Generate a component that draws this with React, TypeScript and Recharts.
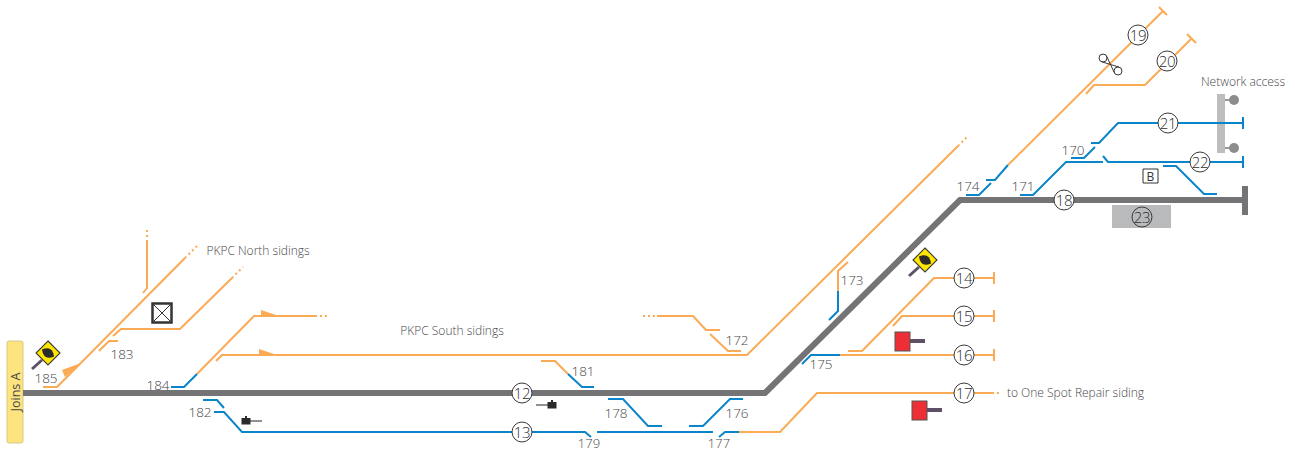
import React from "react"
import {
  ComposedChart,
  Line,
  Scatter,
  XAxis,
  YAxis,
  ReferenceArea
} from "recharts"

type Pt = { x: number; y: number }
const p = (...c: number[]): Pt[] => {
  const out: Pt[] = []
  for (let i = 0; i < c.length; i += 2) out.push({ x: c[i], y: c[i + 1] })
  return out
}

const ORANGE = "#fbaa55"
const BLUE = "#0a85c9"
const GREY = "#747477"
const INK = "#48484a"

// diagram coordinates, x along the page, y downwards
const mainTrack = [
  p(23, 393, 765, 393, 960, 200, 1245, 200),
  p(1245, 186, 1245, 215)
]

const orangeTracks = [
  p(43, 387, 57, 387, 185, 258),
  p(143, 293, 147, 288, 147, 242),
  p(99, 351, 109, 341, 118, 341),
  p(113, 336, 121, 329, 180, 329, 232, 278),
  p(197, 374, 254, 316, 315, 316),
  p(216, 361, 222, 355, 747, 355, 958, 146),
  p(657, 316, 693, 316, 706, 330, 720, 330),
  p(710, 334, 728, 351, 741, 351),
  p(541, 361, 555, 361, 568, 374),
  p(739, 432, 780, 432, 817, 393, 992, 393),
  p(848, 262, 838, 271, 838, 291),
  p(840, 355, 994, 355),
  p(848, 351, 862, 351, 934, 278, 994, 278),
  p(893, 326, 902, 316, 994, 316),
  p(1008, 165, 1163, 11),
  p(1086, 94, 1094, 85, 1145, 85, 1192, 38)
]

const orangeStops = [
  p(994, 272, 994, 284),
  p(994, 310, 994, 322),
  p(994, 349, 994, 361),
  p(1159, 7, 1167, 15),
  p(1187, 34, 1196, 43)
]

const dottedEnds = [
  p(185, 258, 197, 246),
  p(147, 242, 147, 228),
  p(232, 278, 243, 267),
  p(315, 316, 330, 316),
  p(643, 316, 657, 316),
  p(958, 146, 968, 136),
  p(992, 393, 1001, 393)
]

const blueTracks = [
  p(171, 387, 184, 387, 197, 374),
  p(203, 400, 217, 400, 224, 408),
  p(214, 412, 224, 412, 242, 432, 585, 432, 591, 437),
  p(597, 432, 713, 432),
  p(719, 437, 725, 432, 739, 432),
  p(568, 374, 582, 387, 594, 387),
  p(608, 399, 623, 399, 648, 426, 662, 426),
  p(689, 426, 703, 426, 730, 399, 743, 399),
  p(838, 291, 838, 311, 829, 320),
  p(802, 364, 811, 355, 840, 355),
  p(966, 195, 979, 195, 991, 183),
  p(986, 180, 995, 180, 1008, 165),
  p(1091, 143, 1099, 143, 1118, 123, 1243, 123),
  p(1071, 158, 1084, 158, 1095, 147),
  p(1020, 195, 1033, 195, 1066, 162, 1103, 162),
  p(1103, 156, 1108, 162, 1243, 162),
  p(1163, 166, 1176, 166, 1204, 194, 1217, 194),
  p(1243, 117, 1243, 129),
  p(1243, 156, 1243, 168)
]

const roadNumbers = [
  { x: 522, y: 393, text: "12" },
  { x: 522, y: 432, text: "13" },
  { x: 964, y: 278, text: "14" },
  { x: 964, y: 316, text: "15" },
  { x: 964, y: 355, text: "16" },
  { x: 964, y: 393, text: "17" },
  { x: 1064, y: 200, text: "18" },
  { x: 1138, y: 35, text: "19" },
  { x: 1167, y: 61, text: "20" },
  { x: 1168, y: 123, text: "21" },
  { x: 1200, y: 162, text: "22" },
  { x: 1142, y: 217, text: "23" }
]

const pointLabels = [
  { x: 122, y: 354, text: "183" },
  { x: 46, y: 378, text: "185" },
  { x: 158, y: 385, text: "184" },
  { x: 200, y: 412, text: "182" },
  { x: 583, y: 371, text: "181" },
  { x: 737, y: 340, text: "172" },
  { x: 616, y: 413, text: "178" },
  { x: 737, y: 413, text: "176" },
  { x: 852, y: 280, text: "173" },
  { x: 821, y: 364, text: "175" },
  { x: 968, y: 186, text: "174" },
  { x: 1023, y: 186, text: "171" },
  { x: 1073, y: 150, text: "170" }
]

const bottomLabels = [
  { x: 589, y: 443.5, text: "179" },
  { x: 719, y: 443.5, text: "177" }
]

const boxedLetters = [{ x: 1150.5, y: 176, text: "B" }]

const placeNames = [
  { x: 258, y: 250, text: "PKPC North sidings" },
  { x: 452, y: 330, text: "PKPC South sidings" },
  { x: 1075.5, y: 392, text: "to One Spot Repair siding" },
  { x: 1243, y: 81, text: "Network access" }
]

const directionArrows = [{ x: 62, y: 374 }, { x: 261, y: 316 }, { x: 259, y: 355 }]
const yellowSigns = [{ x: 48, y: 353 }, { x: 925, y: 260 }]
const redSignals = [{ x: 895, y: 332 }, { x: 912, y: 401 }]
const locoLeft = [{ x: 552, y: 405 }]
const locoRight = [{ x: 246, y: 421 }]
const accessPoints = [{ x: 1234, y: 100 }, { x: 1234, y: 148 }]
const crossedBox = [{ x: 162, y: 313 }]
const hoseSymbol = [{ x: 1110.5, y: 64.5 }]
const joinLabel = [{ x: 15, y: 392 }]

const font = "'Open Sans', sans-serif"

const NumberCircle = (d: any) => (
  <g>
    <circle cx={d.cx} cy={d.cy} r={10} fill={d.payload.text === "23" ? "#b9babb" : "#fff"} stroke="#3a3a3c" strokeWidth={1} />
    <text x={d.cx} y={d.cy + 5.5} textAnchor="middle" fontFamily={font} fontWeight={300} fontSize={15} letterSpacing={-0.4} fill="#2e2e30">
      {d.payload.text}
    </text>
  </g>
)

const Label = (d: any) => (
  <text x={d.cx} y={d.cy + 5} textAnchor="middle" fontFamily={font} fontWeight={300} fontSize={13.5} fill={INK}>
    {d.payload.text}
  </text>
)

const BottomLabel = (d: any) => (
  <text x={d.cx} y={d.cy + 4.5} textAnchor="middle" fontFamily={font} fontWeight={300} fontSize={13} fill={INK}>
    {d.payload.text}
  </text>
)

const PlaceName = (d: any) => (
  <text x={d.cx} y={d.cy + 4.5} textAnchor="middle" fontFamily={font} fontWeight={300} fontSize={12} fill={INK}>
    {d.payload.text}
  </text>
)

const BoxLetter = (d: any) => (
  <text x={d.cx} y={d.cy + 4.5} textAnchor="middle" fontFamily={font} fontWeight={400} fontSize={12} fill="#333">
    {d.payload.text}
  </text>
)

const Arrow = (d: any) => {
  const { cx, cy } = d
  if (cx < 100) return <path d={`M${cx} ${cy - 4}L${cx + 19} ${cy - 11}L${cx + 3} ${cy + 3}Z`} fill={ORANGE} />
  return <path d={`M${cx} ${cy - 6}L${cx + 18} ${cy}L${cx} ${cy}Z`} fill={ORANGE} />
}

const YellowSign = ({ cx, cy }: any) => (
  <g>
    <line x1={cx - 6} y1={cy + 7} x2={cx - 16} y2={cy + 16} stroke="#5f5068" strokeWidth={3} />
    <path d={`M${cx} ${cy - 12}L${cx + 12} ${cy}L${cx} ${cy + 12}L${cx - 12} ${cy}Z`} fill="#ffe600" stroke="#3a3a3c" strokeWidth={1.1} />
    <path
      d={`M${cx - 7} ${cy}Q${cx} ${cy - 9} ${cx + 7} ${cy}Q${cx} ${cy + 9} ${cx - 7} ${cy}Z`}
      transform={`rotate(30 ${cx} ${cy})`}
      fill="#2b2b2d"
    />
  </g>
)

const RedSignal = ({ cx, cy }: any) => (
  <g>
    <rect x={cx + 15} y={cy + 7} width={15} height={4} fill="#5f5068" />
    <rect x={cx} y={cy} width={15} height={19} fill="#ee2e36" stroke="#555" strokeWidth={1} />
  </g>
)

const Loco = ({ cx, cy, dir }: any) => (
  <g>
    <line x1={cx} y1={cy} x2={cx + dir * 16} y2={cy} stroke="#222" strokeWidth={1} />
    <rect x={cx - 4.5} y={cy - 3} width={9} height={6.5} fill="#2b2b2d" />
    <rect x={cx - 1} y={cy - 5} width={2} height={2} fill="#2b2b2d" />
  </g>
)

const AccessPoint = ({ cx, cy }: any) => (
  <g>
    <line x1={cx - 9} y1={cy} x2={cx} y2={cy} stroke="#555" strokeWidth={1.2} />
    <circle cx={cx} cy={cy} r={5} fill="#8c8c8e" />
  </g>
)

const CrossedBox = ({ cx, cy }: any) => (
  <g fill="none">
    <rect x={cx - 9.5} y={cy - 9.5} width={19} height={19} stroke="#333" strokeWidth={2.5} />
    <path d={`M${cx - 9} ${cy - 9}L${cx + 9} ${cy + 9}M${cx + 9} ${cy - 9}L${cx - 9} ${cy + 9}`} stroke="#333" strokeWidth={1} />
  </g>
)

const Hose = ({ cx, cy }: any) => (
  <g fill="none" stroke="#3a3a3c" strokeWidth={1}>
    <line x1={cx - 8.6} y1={cy - 2.6} x2={cx + 8.6} y2={cy + 2.6} />
    <line x1={cx - 3.8} y1={cy - 8.2} x2={cx + 3.8} y2={cy + 8.2} />
    <circle cx={cx - 7.5} cy={cy - 6.5} r={4} />
    <circle cx={cx + 7.5} cy={cy + 6.5} r={4} />
  </g>
)

const JoinText = ({ cx, cy }: any) => (
  <text
    x={cx}
    y={cy}
    transform={`rotate(-90 ${cx} ${cy})`}
    dy={4.5}
    textAnchor="middle"
    fontFamily={font}
    fontWeight={400}
    fontSize={12.5}
    fill={INK}
  >
    Joins A
  </text>
)

const track = (pts: Pt[], key: string, color: string, width: number, dash?: string) => (
  <Line
    key={key}
    data={pts}
    dataKey="y"
    stroke={color}
    strokeWidth={width}
    strokeDasharray={dash}
    strokeLinejoin="miter"
    dot={false}
    activeDot={false}
    isAnimationActive={false}
    legendType="none"
  />
)

const marks = (pts: any[], key: string, shape: any) => (
  <Scatter key={key} data={pts} dataKey="y" shape={shape} isAnimationActive={false} legendType="none" />
)

export default function App() {
  return (
    <div style={{ position: "absolute", left: 0, top: 0, width: 1295, height: 452 }}>
      <ComposedChart width={1295} height={452} margin={{ top: 0, right: 0, bottom: 0, left: 0 }}>
        <XAxis dataKey="x" type="number" domain={[0, 1295]} hide />
        <YAxis dataKey="y" type="number" domain={[0, 452]} reversed hide />
        <ReferenceArea x1={7} x2={23} y1={341} y2={443} fill="#fde47f" fillOpacity={1} stroke="#d9c884" radius={2} />
        <ReferenceArea x1={1217} x2={1225} y1={94} y2={153} fill="#bdbdbe" fillOpacity={1} />
        <ReferenceArea x1={1112} x2={1171} y1={205} y2={228} fill="#b9babb" fillOpacity={1} />
        <ReferenceArea x1={1143} x2={1158} y1={169} y2={183} fill="#fff" fillOpacity={1} stroke="#333" strokeOpacity={1} strokeWidth={1} />
        {orangeTracks.map((t, i) => track(t, `o${i}`, ORANGE, 2))}
        {orangeStops.map((t, i) => track(t, `s${i}`, ORANGE, 2))}
        {dottedEnds.map((t, i) => track(t, `d${i}`, ORANGE, 2, "2 3"))}
        {blueTracks.map((t, i) => track(t, `b${i}`, BLUE, 2))}
        {mainTrack.map((t, i) => track(t, `m${i}`, GREY, 6))}
        {marks(directionArrows, "arrows", Arrow)}
        {marks(yellowSigns, "yellow", YellowSign)}
        {marks(redSignals, "red", RedSignal)}
        {marks(locoLeft, "locoL", (d: any) => <Loco {...d} dir={-1} />)}
        {marks(locoRight, "locoR", (d: any) => <Loco {...d} dir={1} />)}
        {marks(accessPoints, "access", AccessPoint)}
        {marks(crossedBox, "crossed", CrossedBox)}
        {marks(hoseSymbol, "hose", Hose)}
        {marks(roadNumbers, "numbers", NumberCircle)}
        {marks(pointLabels, "labels", Label)}
        {marks(bottomLabels, "bottomLabels", BottomLabel)}
        {marks(boxedLetters, "letters", BoxLetter)}
        {marks(placeNames, "names", PlaceName)}
        {marks(joinLabel, "join", JoinText)}
      </ComposedChart>
    </div>
  )
}
